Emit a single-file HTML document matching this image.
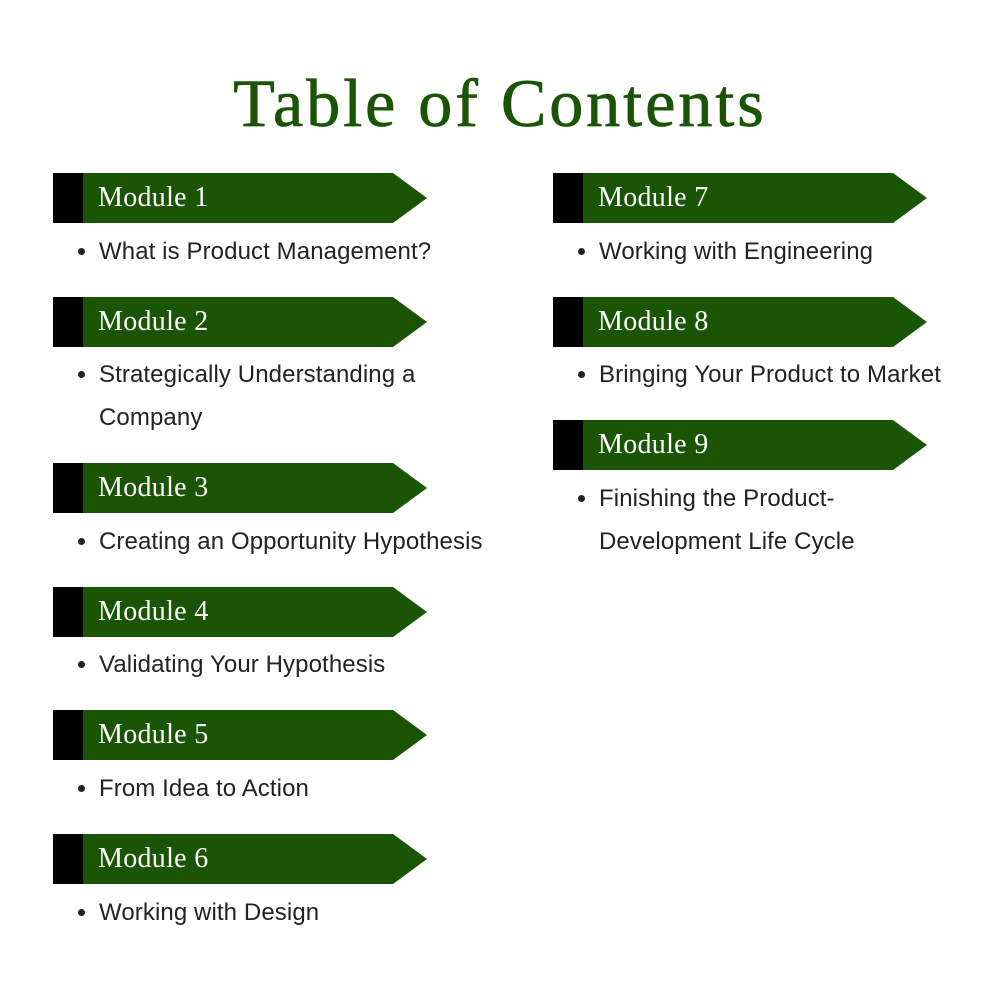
<!DOCTYPE html>
<html><head><style>
body{margin:0;width:1000px;height:1000px;background:#fff;position:relative;font-family:"Liberation Sans",sans-serif;overflow:hidden}
.t{position:absolute;left:0;width:1000px;text-align:center;top:64px;font-family:"Liberation Serif",serif;font-size:68px;color:#1a5505;letter-spacing:3px;-webkit-text-stroke:0.8px #1a5505}
.b{position:absolute;width:374px;height:50px}
.b svg{position:absolute;left:0;top:0}
.b span{position:absolute;left:45px;top:9px;font-family:"Liberation Serif",serif;font-size:28px;color:#fff;letter-spacing:0.3px}
.i{position:absolute;font-size:24px;color:#222;line-height:43px;letter-spacing:0.1px}
.i:before{content:"";position:absolute;left:-21px;top:18px;width:7px;height:7px;border-radius:50%;background:#222}
</style></head><body>
<div class="t">Table of Contents</div>

<div class="b" style="left:53px;top:173px"><svg width="374" height="50"><rect width="30" height="50" fill="#000"/><polygon points="30,0 340,0 374,25 340,50 30,50" fill="#1a5505"/></svg><span>Module 1</span></div>
<div class="i" style="left:99px;top:230px">What is Product Management?</div>

<div class="b" style="left:53px;top:297px"><svg width="374" height="50"><rect width="30" height="50" fill="#000"/><polygon points="30,0 340,0 374,25 340,50 30,50" fill="#1a5505"/></svg><span>Module 2</span></div>
<div class="i" style="left:99px;top:353px">Strategically Understanding a<br>Company</div>

<div class="b" style="left:53px;top:463px"><svg width="374" height="50"><rect width="30" height="50" fill="#000"/><polygon points="30,0 340,0 374,25 340,50 30,50" fill="#1a5505"/></svg><span>Module 3</span></div>
<div class="i" style="left:99px;top:520px">Creating an Opportunity Hypothesis</div>

<div class="b" style="left:53px;top:587px"><svg width="374" height="50"><rect width="30" height="50" fill="#000"/><polygon points="30,0 340,0 374,25 340,50 30,50" fill="#1a5505"/></svg><span>Module 4</span></div>
<div class="i" style="left:99px;top:643px">Validating Your Hypothesis</div>

<div class="b" style="left:53px;top:710px"><svg width="374" height="50"><rect width="30" height="50" fill="#000"/><polygon points="30,0 340,0 374,25 340,50 30,50" fill="#1a5505"/></svg><span>Module 5</span></div>
<div class="i" style="left:99px;top:767px">From Idea to Action</div>

<div class="b" style="left:53px;top:834px"><svg width="374" height="50"><rect width="30" height="50" fill="#000"/><polygon points="30,0 340,0 374,25 340,50 30,50" fill="#1a5505"/></svg><span>Module 6</span></div>
<div class="i" style="left:99px;top:891px">Working with Design</div>

<div class="b" style="left:553px;top:173px"><svg width="374" height="50"><rect width="30" height="50" fill="#000"/><polygon points="30,0 340,0 374,25 340,50 30,50" fill="#1a5505"/></svg><span>Module 7</span></div>
<div class="i" style="left:599px;top:230px">Working with Engineering</div>

<div class="b" style="left:553px;top:297px"><svg width="374" height="50"><rect width="30" height="50" fill="#000"/><polygon points="30,0 340,0 374,25 340,50 30,50" fill="#1a5505"/></svg><span>Module 8</span></div>
<div class="i" style="left:599px;top:353px">Bringing Your Product to Market</div>

<div class="b" style="left:553px;top:420px"><svg width="374" height="50"><rect width="30" height="50" fill="#000"/><polygon points="30,0 340,0 374,25 340,50 30,50" fill="#1a5505"/></svg><span>Module 9</span></div>
<div class="i" style="left:599px;top:477px">Finishing the Product-<br>Development Life Cycle</div>
</body></html>
